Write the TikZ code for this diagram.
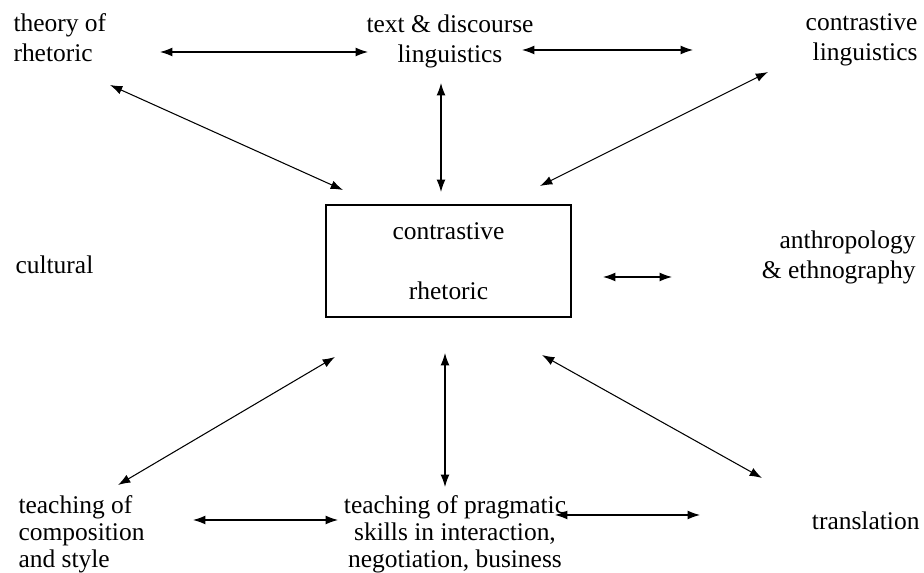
\documentclass[tikz,border=0pt]{standalone}
\usepackage{fontspec}
\setmainfont{Liberation Serif}
\usepackage{tikz}
\usetikzlibrary{arrows.meta}

\begin{document}
\begin{tikzpicture}[x=0.02cm, y=-0.02cm, line width=0.6pt]
    \tikzstyle{field}=[inner sep=0pt, font=\fontsize{14.5}{17}\selectfont]
    \tikzstyle{left field}=[field, anchor=west, align=left];
    \tikzstyle{right field}=[field, anchor=east, align=right];
    \tikzstyle{low field}=[field, font=\fontsize{14.5}{15.3}\selectfont]
    \tikzstyle{core}=[draw, inner sep=0pt, minimum width=4.9cm, minimum height=2.24cm, align=center, font=\fontsize{14.5}{17}\selectfont]
    \tikzstyle{link}=[{Latex[length=7pt,width=5pt]}-{Latex[length=7pt,width=5pt]}]

    \useasboundingbox (0,0) rectangle (924,573);

    % Draw the centre box
    \node[core] (CR) at (448.5,261) {contrastive\\[17pt]rhetoric};

    % Draw the surrounding fields
    \node[left field] (rhet) at (13,38) {theory of\\rhetoric};
    \node[field, align=center] (text) at (450,41) {text \& discourse\\linguistics};
    \node[right field] (ling) at (918,40) {contrastive\\linguistics};
    \node[left field] (cult) at (15,265) {cultural};
    \node[right field] (anth) at (916,257) {anthropology\\\& ethnography};
    \node[low field, anchor=west, align=left] (comp) at (18,534) {teaching of\\composition\\and style};
    \node[low field, align=center] (prag) at (455,534) {teaching of pragmatic\\skills in interaction,\\negotiation, business};
    \node[right field] (tran) at (920,521) {translation};

    % Arrow ends
    \coordinate (rhet-e) at (160,52);   \coordinate (text-w) at (368,52);
    \coordinate (text-e) at (522,50);   \coordinate (ling-w) at (693,50);
    \coordinate (rhet-s) at (110,85);   \coordinate (CR-nw) at (343,190);
    \coordinate (text-s) at (441,83);   \coordinate (CR-n) at (441,192);
    \coordinate (ling-s) at (768,72);   \coordinate (CR-ne) at (540,186);
    \coordinate (CR-e) at (603,277);    \coordinate (anth-w) at (672,277);
    \coordinate (CR-sw) at (335,357);   \coordinate (comp-n) at (118,485);
    \coordinate (CR-s) at (445,353);    \coordinate (prag-n) at (445,487);
    \coordinate (CR-se) at (542,355);   \coordinate (tran-n) at (762,478);
    \coordinate (comp-e) at (193,520);  \coordinate (prag-w) at (338,520);
    \coordinate (prag-e) at (555,515);  \coordinate (tran-w) at (700,515);

    % Connect the fields with each other and with the box
    \foreach \source/\dest in {rhet-e/text-w, text-e/ling-w, rhet-s/CR-nw, text-s/CR-n,
            ling-s/CR-ne, CR-e/anth-w, CR-sw/comp-n, CR-s/prag-n, CR-se/tran-n,
            comp-e/prag-w, prag-e/tran-w}
        \draw[link] (\source) -- (\dest);
\end{tikzpicture}
\end{document}
